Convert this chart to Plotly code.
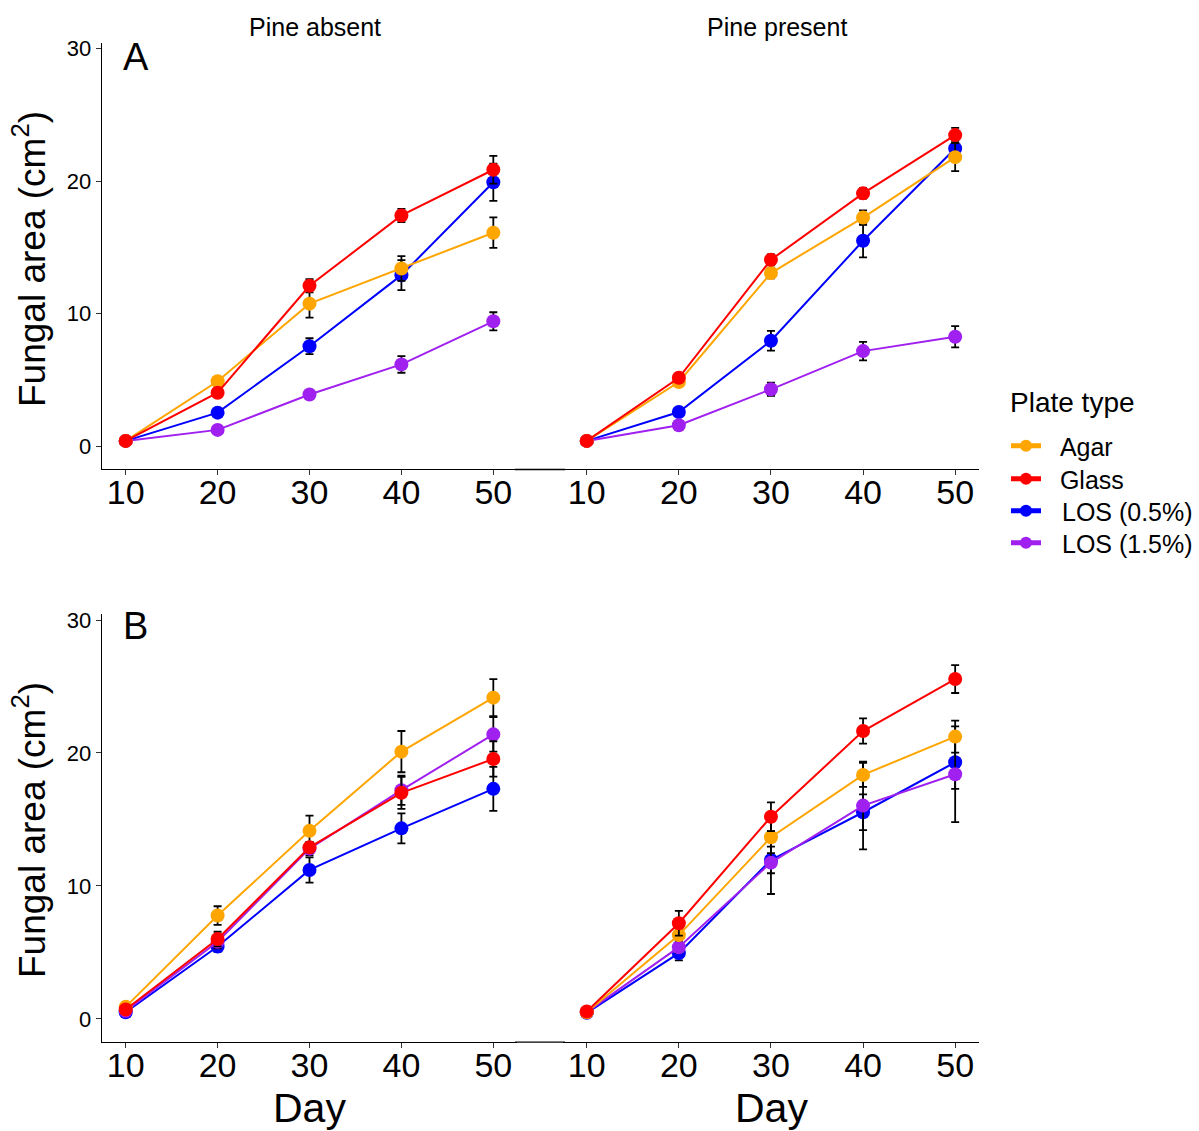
import plotly.graph_objects as go

W, H = 1199, 1131

days = [10, 20, 30, 40, 50]
plate_types = ["Agar", "Glass", "LOS (0.5%)", "LOS (1.5%)"]
legend_labels = ["\u00a0\u00a0Agar", "\u00a0\u00a0Glass", "\u00a0\u00a0\u200aLOS (0.5%)", "\u00a0\u00a0\u200aLOS (1.5%)"]
colors = {"Agar": "#FFA500", "Glass": "#FF0000", "LOS (0.5%)": "#0000FF", "LOS (1.5%)": "#A020F0"}
facet_titles = ["Pine absent", "Pine present"]
y_ticks = [0, 10, 20, 30]

# Panel A, pine absent
A_abs = {
    "Agar": [0.4, 4.9, 10.75, 13.4, 16.1],
    "Glass": [0.4, 4.03, 12.1, 17.4, 20.85],
    "LOS (0.5%)": [0.4, 2.53, 7.54, 12.9, 19.9],
    "LOS (1.5%)": [0.4, 1.23, 3.9, 6.17, 9.42],
}
A_abs_se = {
    "Agar": [0.1, 0.3, 1.05, 0.93, 1.15],
    "Glass": [0.1, 0.3, 0.5, 0.5, 1.05],
    "LOS (0.5%)": [0.1, 0.25, 0.6, 1.13, 1.4],
    "LOS (1.5%)": [0.1, 0.2, 0.3, 0.63, 0.68],
}
# Panel A, pine present
A_pre = {
    "Agar": [0.4, 4.84, 13.06, 17.24, 21.8],
    "Glass": [0.4, 5.16, 14.06, 19.07, 23.46],
    "LOS (0.5%)": [0.4, 2.58, 7.95, 15.49, 22.45],
    "LOS (1.5%)": [0.4, 1.58, 4.29, 7.17, 8.25],
}
A_pre_se = {
    "Agar": [0.1, 0.3, 0.4, 0.55, 1.05],
    "Glass": [0.1, 0.3, 0.4, 0.4, 0.55],
    "LOS (0.5%)": [0.1, 0.25, 0.75, 1.25, 0.6],
    "LOS (1.5%)": [0.1, 0.2, 0.5, 0.7, 0.8],
}
# Panel B, pine absent
B_abs = {
    "Agar": [0.9, 7.77, 14.14, 20.1, 24.16],
    "Glass": [0.7, 6.0, 12.9, 17.0, 19.55],
    "LOS (0.5%)": [0.5, 5.44, 11.2, 14.33, 17.3],
    "LOS (1.5%)": [0.6, 5.8, 12.8, 17.2, 21.4],
}
B_abs_se = {
    "Agar": [0.15, 0.7, 1.15, 1.55, 1.4],
    "Glass": [0.1, 0.55, 0.4, 1.2, 1.33],
    "LOS (0.5%)": [0.1, 0.4, 0.95, 1.13, 1.65],
    "LOS (1.5%)": [0.1, 0.5, 0.5, 1.1, 1.3],
}
# Panel B, pine present
B_pre = {
    "Agar": [0.5, 6.3, 13.66, 18.35, 21.23],
    "Glass": [0.55, 7.19, 15.2, 21.65, 25.56],
    "LOS (0.5%)": [0.45, 4.94, 11.95, 15.54, 19.3],
    "LOS (1.5%)": [0.5, 5.39, 11.75, 16.04, 18.4],
}
B_pre_se = {
    "Agar": [0.1, 0.4, 1.2, 0.9, 1.2],
    "Glass": [0.1, 0.93, 1.08, 0.95, 1.05],
    "LOS (0.5%)": [0.1, 0.55, 1.0, 1.35, 2.0],
    "LOS (1.5%)": [0.1, 0.4, 2.36, 3.3, 3.6],
}

panels = [
    (A_abs, A_abs_se, "x", "y"),
    (A_pre, A_pre_se, "x2", "y2"),
    (B_abs, B_abs_se, "x3", "y3"),
    (B_pre, B_pre_se, "x4", "y4"),
]

draw_order = ["LOS (0.5%)", "LOS (1.5%)", "Agar", "Glass"]
legend_ids = ["legend", "legend2", "legend3", "legend4"]

fig = go.Figure()
for pi, (vals, ses, xa, ya) in enumerate(panels):
    for name in draw_order:
        idx = plate_types.index(name)
        fig.add_trace(go.Scatter(
            x=days, y=vals[name], xaxis=xa, yaxis=ya,
            mode="lines+markers",
            name=legend_labels[idx],
            legend=legend_ids[idx],
            showlegend=(pi == 0),
            line=dict(color=colors[name], width=2),
            marker=dict(color=colors[name], size=14),
            error_y=dict(type="data", array=ses[name], color="black", thickness=1.8, width=4),
        ))

def px_x(p):
    return p / W

def px_y(p):
    return 1 - p / H

xl = [px_x(101.7), px_x(517.4)]
xr = [px_x(562.7), px_x(979.3)]
ya = [px_y(469), px_y(42.7)]
yb = [px_y(1041.7), px_y(614.3)]

xrange = [7.39, 52.62]
yrange = [-1.72, 30.43]

xcommon = dict(range=xrange, tickvals=days, ticks="outside", ticklen=5, tickwidth=1.1,
               tickcolor="#333333", showline=True, linecolor="black", linewidth=1.1,
               showgrid=False, zeroline=False, automargin=False, ticklabelstandoff=-12,
               tickfont=dict(size=34, color="black", family="Liberation Sans, Arial"))
ycommon_left = dict(range=yrange, tickvals=y_ticks, ticks="outside", ticklen=5, tickwidth=1.1,
                    tickcolor="#333333", showline=True, linecolor="black", linewidth=1.1,
                    showgrid=False, zeroline=False, automargin=False,
                    tickfont=dict(size=22, color="black", family="Liberation Sans, Arial"))
ycommon_right = dict(range=yrange, showticklabels=False, ticks="", showline=False,
                     showgrid=False, zeroline=False, automargin=False)

legend_y = [446, 479, 511, 543]
legend_common = dict(x=px_x(1006), xanchor="left", yanchor="middle",
                     font=dict(size=25), itemsizing="constant",
                     bgcolor="rgba(0,0,0,0)", borderwidth=0)

fig.update_layout(
    template="none",
    width=W, height=H,
    margin=dict(l=0, r=0, t=0, b=0, autoexpand=False),
    plot_bgcolor="white", paper_bgcolor="white",
    font=dict(family="Liberation Sans, Arial", color="black"),
    xaxis=dict(domain=xl, anchor="y", **xcommon),
    xaxis2=dict(domain=xr, anchor="y2", **xcommon),
    xaxis3=dict(domain=xl, anchor="y3", **xcommon),
    xaxis4=dict(domain=xr, anchor="y4", **xcommon),
    yaxis=dict(domain=ya, anchor="x", **ycommon_left),
    yaxis2=dict(domain=ya, anchor="x2", **ycommon_right),
    yaxis3=dict(domain=yb, anchor="x3", **ycommon_left),
    yaxis4=dict(domain=yb, anchor="x4", **ycommon_right),
    legend=dict(y=px_y(legend_y[0]), **legend_common),
    legend2=dict(y=px_y(legend_y[1]), **legend_common),
    legend3=dict(y=px_y(legend_y[2]), **legend_common),
    legend4=dict(y=px_y(legend_y[3]), **legend_common),
    showlegend=True,
)

# continuous baseline through gap between facets
for yy in [469, 1041.7]:
    fig.add_shape(type="line", xref="paper", yref="paper", layer="above",
                  x0=px_x(515), x1=px_x(565), y0=px_y(yy + 0.5), y1=px_y(yy + 0.5),
                  line=dict(color="black", width=1.3))

ann = []
# facet titles
ann.append(dict(text=facet_titles[0], x=px_x(314.5), y=px_y(27), font=dict(size=25)))
ann.append(dict(text=facet_titles[1], x=px_x(777), y=px_y(27), font=dict(size=25)))
# panel letters
ann.append(dict(text="A", x=px_x(121), y=px_y(57), xanchor="left", font=dict(size=38)))
ann.append(dict(text="B", x=px_x(121), y=px_y(626), xanchor="left", font=dict(size=38)))
# legend title
ann.append(dict(text="Plate type", x=px_x(1008), y=px_y(402), xanchor="left", font=dict(size=28)))
# y titles
for yc in [259, 830]:
    ann.append(dict(text="Fungal area (cm<sup>2</sup>)", x=px_x(29), y=px_y(yc),
                    textangle=-90, font=dict(size=37)))
# x titles
ann.append(dict(text="Day", x=px_x(309), y=px_y(1107.5), font=dict(size=41)))
ann.append(dict(text="Day", x=px_x(771), y=px_y(1107.5), font=dict(size=41)))

for a in ann:
    a.setdefault("xanchor", "center")
    a.setdefault("yanchor", "middle")
    fig.add_annotation(xref="paper", yref="paper", showarrow=False, **a)

fig.write_html("out.html")
